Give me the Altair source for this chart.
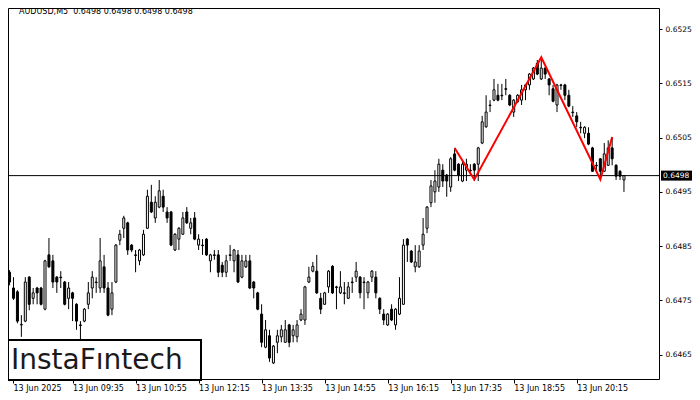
import json
import altair as alt
import pandas as pd

SYMBOL = "AUDUSD,M5"
BID = 0.6498

OPEN = [0.64802, 0.64773, 0.64766, 0.64705, 0.64712, 0.64793, 0.64754, 0.64773, 0.64773, 0.64734,
        0.64834, 0.64823, 0.64793, 0.64793, 0.64784, 0.64754, 0.64764, 0.64743, 0.64705, 0.64712,
        0.64743, 0.64773, 0.64784, 0.64773, 0.64812, 0.64773, 0.64734, 0.64784, 0.64861, 0.64883,
        0.64893, 0.64852, 0.64834, 0.64823, 0.64834, 0.64883, 0.64931, 0.64902, 0.64922, 0.64942,
        0.64913, 0.64913, 0.64843, 0.64863, 0.64872, 0.64913, 0.64883, 0.64902, 0.64852, 0.64852,
        0.64863, 0.64823, 0.64834, 0.64834, 0.64815, 0.64802, 0.64834, 0.64823, 0.64834, 0.64793,
        0.64812, 0.64823, 0.64784, 0.64764, 0.64725, 0.64664, 0.64685, 0.64635, 0.64673, 0.64683,
        0.64673, 0.64705, 0.64685, 0.64683, 0.64714, 0.64714, 0.64784, 0.64804, 0.64804, 0.64754,
        0.64743, 0.64775, 0.64813, 0.64775, 0.64764, 0.64764, 0.64754, 0.64784, 0.64793, 0.64793,
        0.64784, 0.64764, 0.64793, 0.64793, 0.64754, 0.64725, 0.64705, 0.64734, 0.64705, 0.64725,
        0.64743, 0.64863, 0.64841, 0.64812, 0.64812, 0.64852, 0.64883, 0.64930, 0.64950, 0.64959,
        0.64990, 0.64981, 0.64959, 0.65020, 0.65001, 0.64970, 0.64990, 0.64990, 0.65001, 0.65001,
        0.65040, 0.65070, 0.65110, 0.65119, 0.65128, 0.65128, 0.65140, 0.65128, 0.65097, 0.65116,
        0.65119, 0.65138, 0.65147, 0.65158, 0.65187, 0.65158, 0.65178, 0.65158, 0.65140, 0.65110,
        0.65147, 0.65147, 0.65128, 0.65097, 0.65090, 0.65069, 0.65058, 0.65058, 0.65031, 0.64999,
        0.65011, 0.64988, 0.64999, 0.65031, 0.64999, 0.64988, 0.64972]

HIGH = [0.64806, 0.64793, 0.64769, 0.64723, 0.64793, 0.64795, 0.64773, 0.64775, 0.64775, 0.64825,
        0.64865, 0.64834, 0.64795, 0.64804, 0.64786, 0.64784, 0.64766, 0.64745, 0.64712, 0.64736,
        0.64784, 0.64804, 0.64793, 0.64865, 0.64834, 0.64784, 0.64784, 0.64854, 0.64880, 0.64906,
        0.64895, 0.64854, 0.64843, 0.64845, 0.64880, 0.64954, 0.64963, 0.64942, 0.64972, 0.64954,
        0.64922, 0.64915, 0.64874, 0.64885, 0.64913, 0.64922, 0.64902, 0.64913, 0.64872, 0.64863,
        0.64865, 0.64836, 0.64843, 0.64843, 0.64821, 0.64834, 0.64852, 0.64845, 0.64843, 0.64834,
        0.64834, 0.64834, 0.64786, 0.64766, 0.64743, 0.64714, 0.64696, 0.64668, 0.64696, 0.64705,
        0.64714, 0.64707, 0.64705, 0.64714, 0.64734, 0.64777, 0.64812, 0.64821, 0.64834, 0.64764,
        0.64766, 0.64806, 0.64815, 0.64777, 0.64804, 0.64784, 0.64784, 0.64793, 0.64821, 0.64795,
        0.64793, 0.64786, 0.64806, 0.64804, 0.64756, 0.64734, 0.64727, 0.64743, 0.64736, 0.64793,
        0.64863, 0.64865, 0.64843, 0.64852, 0.64852, 0.64902, 0.64924, 0.64972, 0.64990, 0.65011,
        0.65001, 0.64983, 0.65014, 0.65031, 0.65003, 0.65005, 0.65011, 0.65001, 0.65003, 0.65033,
        0.65090, 0.65128, 0.65119, 0.65158, 0.65149, 0.65149, 0.65158, 0.65130, 0.65121, 0.65130,
        0.65147, 0.65149, 0.65169, 0.65180, 0.65193, 0.65198, 0.65180, 0.65160, 0.65147, 0.65149,
        0.65149, 0.65149, 0.65138, 0.65108, 0.65097, 0.65079, 0.65071, 0.65069, 0.65033, 0.65005,
        0.65012, 0.65040, 0.65045, 0.65051, 0.65001, 0.64990, 0.64979]

LOW = [0.64778, 0.64751, 0.64708, 0.64683, 0.64710, 0.64732, 0.64743, 0.64743, 0.64741, 0.64732,
       0.64810, 0.64773, 0.64764, 0.64773, 0.64741, 0.64734, 0.64712, 0.64696, 0.64677, 0.64710,
       0.64734, 0.64754, 0.64764, 0.64764, 0.64764, 0.64721, 0.64723, 0.64782, 0.64852, 0.64865,
       0.64834, 0.64839, 0.64802, 0.64815, 0.64832, 0.64882, 0.64911, 0.64893, 0.64920, 0.64913,
       0.64893, 0.64850, 0.64841, 0.64843, 0.64871, 0.64891, 0.64872, 0.64861, 0.64843, 0.64834,
       0.64832, 0.64802, 0.64825, 0.64793, 0.64793, 0.64793, 0.64823, 0.64802, 0.64782, 0.64791,
       0.64810, 0.64771, 0.64754, 0.64732, 0.64664, 0.64662, 0.64637, 0.64633, 0.64653, 0.64673,
       0.64672, 0.64664, 0.64673, 0.64673, 0.64712, 0.64705, 0.64782, 0.64802, 0.64762, 0.64725,
       0.64742, 0.64764, 0.64762, 0.64734, 0.64762, 0.64743, 0.64753, 0.64764, 0.64784, 0.64754,
       0.64734, 0.64754, 0.64784, 0.64754, 0.64725, 0.64705, 0.64703, 0.64712, 0.64696, 0.64723,
       0.64742, 0.64821, 0.64819, 0.64802, 0.64810, 0.64843, 0.64874, 0.64922, 0.64930, 0.64950,
       0.64959, 0.64941, 0.64950, 0.64988, 0.64970, 0.64968, 0.64970, 0.64981, 0.64970, 0.64970,
       0.65038, 0.65068, 0.65097, 0.65117, 0.65117, 0.65119, 0.65128, 0.65108, 0.65088, 0.65114,
       0.65110, 0.65119, 0.65138, 0.65156, 0.65165, 0.65156, 0.65158, 0.65128, 0.65115, 0.65097,
       0.65138, 0.65119, 0.65106, 0.65088, 0.65069, 0.65058, 0.65049, 0.65036, 0.64987, 0.64988,
       0.64973, 0.64987, 0.64998, 0.64999, 0.64972, 0.64972, 0.64950]

CLOSE = [0.64784, 0.64754, 0.64712, 0.64706, 0.64784, 0.64743, 0.64764, 0.64764, 0.64743, 0.64823,
         0.64812, 0.64784, 0.64784, 0.64792, 0.64743, 0.64773, 0.64754, 0.64712, 0.64704, 0.64734,
         0.64764, 0.64793, 0.64783, 0.64823, 0.64773, 0.64723, 0.64764, 0.64852, 0.64872, 0.64902,
         0.64843, 0.64843, 0.64833, 0.64843, 0.64872, 0.64942, 0.64913, 0.64931, 0.64952, 0.64922,
         0.64902, 0.64852, 0.64872, 0.64883, 0.64902, 0.64893, 0.64893, 0.64863, 0.64863, 0.64851,
         0.64834, 0.64834, 0.64833, 0.64802, 0.64802, 0.64823, 0.64833, 0.64843, 0.64784, 0.64823,
         0.64823, 0.64773, 0.64773, 0.64734, 0.64673, 0.64696, 0.64644, 0.64666, 0.64685, 0.64696,
         0.64696, 0.64673, 0.64696, 0.64705, 0.64725, 0.64775, 0.64793, 0.64813, 0.64764, 0.64734,
         0.64764, 0.64804, 0.64764, 0.64774, 0.64775, 0.64763, 0.64775, 0.64783, 0.64804, 0.64764,
         0.64783, 0.64784, 0.64804, 0.64764, 0.64734, 0.64714, 0.64725, 0.64714, 0.64734, 0.64754,
         0.64852, 0.64852, 0.64821, 0.64821, 0.64841, 0.64872, 0.64922, 0.64961, 0.64970, 0.65001,
         0.64970, 0.64970, 0.65011, 0.64990, 0.64981, 0.65001, 0.65001, 0.64989, 0.64990, 0.65031,
         0.65079, 0.65097, 0.65109, 0.65138, 0.65119, 0.65127, 0.65139, 0.65110, 0.65119, 0.65128,
         0.65138, 0.65147, 0.65167, 0.65178, 0.65167, 0.65178, 0.65167, 0.65147, 0.65117, 0.65147,
         0.65146, 0.65128, 0.65108, 0.65096, 0.65079, 0.65068, 0.65069, 0.65038, 0.64988, 0.64998,
         0.64988, 0.65020, 0.65031, 0.65011, 0.64979, 0.64979, 0.64980]

TICK_BARS = [0, 16, 32, 48, 64, 80, 96, 112, 128, 144]
TICK_LABELS = ["13 Jun 2025", "13 Jun 09:35", "13 Jun 10:55", "13 Jun 12:15",
               "13 Jun 13:35", "13 Jun 14:55", "13 Jun 16:15", "13 Jun 17:35",
               "13 Jun 18:55", "13 Jun 20:15"]
PRICE_TICKS = [0.6465, 0.6475, 0.6485, 0.6495, 0.6505, 0.6515, 0.6525]

PATTERN_BARS = [113, 118, 135, 150, 153]
PATTERN_PRICES = [0.65031, 0.64973, 0.65198, 0.64973, 0.65051]

LOGO = "InstaF\u0131ntech"

X_DOMAIN = [0.875, 163.625]
Y_DOMAIN = [0.646054, 0.652887]

n = min(len(OPEN), len(HIGH), len(LOW), len(CLOSE))
df = pd.DataFrame({
    "bar": list(range(n)),
    "open": OPEN[:n], "high": HIGH[:n], "low": LOW[:n], "close": CLOSE[:n],
})
pat = pd.DataFrame({"bar": PATTERN_BARS, "price": PATTERN_PRICES})
one = pd.DataFrame({"k": [0]})

FONT = "DejaVu Sans"
xs = alt.Scale(domain=X_DOMAIN, nice=False, zero=False)
ys = alt.Scale(domain=Y_DOMAIN, nice=False, zero=False)

tick_vals = [max(t, X_DOMAIN[0]) for t in TICK_BARS]
label_expr = f"{json.dumps(TICK_LABELS)}[indexof({json.dumps(tick_vals)}, datum.value)]"

x_axis = alt.Axis(values=tick_vals, labelExpr=label_expr, tickSize=4, tickColor="black",
                  labelAlign="left", labelPadding=1, labelFont=FONT, labelFontSize=8,
                  labelColor="black", domain=False, grid=False, title=None,
                  labelOverlap=False, labelFlush=False, labelBound=False)
y_axis = alt.Axis(values=PRICE_TICKS, format=".4f", orient="right", tickSize=3,
                  tickColor="black", labelPadding=3, labelFont=FONT, labelFontSize=7.5,
                  labelColor="black", domain=False, grid=False, title=None)


def X(field):
    return alt.X(field, type="quantitative", scale=xs, axis=x_axis)


def Y(field):
    return alt.Y(field, type="quantitative", scale=ys, axis=y_axis)


wicks = alt.Chart(df).mark_rule(color="black", strokeWidth=1, clip=True).encode(
    x=X("bar"), y=Y("low"), y2="high")

bodies = alt.Chart(df).mark_bar(width=2, stroke="black", strokeWidth=1, clip=True).encode(
    x=X("bar"), y=Y("open"), y2="close",
    fill=alt.condition("datum.close > datum.open", alt.value("white"), alt.value("black")))

bid_line = alt.Chart(one).mark_rule(color="black", strokeWidth=1).encode(
    x=alt.value(0), x2=alt.value(651), y=alt.YDatum(BID, scale=ys, axis=y_axis))

pattern = alt.Chart(pat).mark_line(color="#ff0000", strokeWidth=2, clip=True).encode(
    x=X("bar"), y=Y("price"))

logo_box = alt.Chart(one).mark_rect(fill="white", stroke="black", strokeWidth=2).encode(
    x=alt.value(0), x2=alt.value(193), y=alt.value(332), y2=alt.value(372))

logo_text = alt.Chart(one).mark_text(align="left", baseline="alphabetic", font=FONT,
                                     fontSize=28, color="#1a1a1a").encode(
    x=alt.value(3), y=alt.value(361), text=alt.value(LOGO))

header = alt.Chart(one).mark_text(align="left", baseline="middle", font=FONT,
                                  fontSize=8, color="black").encode(
    x=alt.value(11), y=alt.value(4),
    text=alt.value(f"{SYMBOL}\u00a0 {BID:.4f} {BID:.4f} {BID:.4f} {BID:.4f}"))

price_tag = alt.Chart(one).mark_tick(color="black", thickness=10, orient="horizontal",
                                     opacity=1).encode(
    x=alt.value(669), y=alt.YDatum(BID, scale=ys, axis=y_axis), size=alt.value(32))

price_text = alt.Chart(one).mark_text(align="left", baseline="middle", font=FONT,
                                      fontSize=7.5, color="white").encode(
    x=alt.value(655), y=alt.YDatum(BID, scale=ys, axis=y_axis), text=alt.value(f"{BID:.4f}"))

chart = alt.layer(wicks, bodies, bid_line, pattern, logo_box, logo_text, header,
                  price_tag, price_text).properties(
    width=651, height=371,
    padding={"left": 0, "top": 0, "right": 33, "bottom": 15},
    autosize=alt.AutoSizeParams(type="none"),
    background="white",
).configure_view(stroke="black", strokeWidth=1)

chart.save("out.html", embed_options={"renderer": "svg", "actions": False})
